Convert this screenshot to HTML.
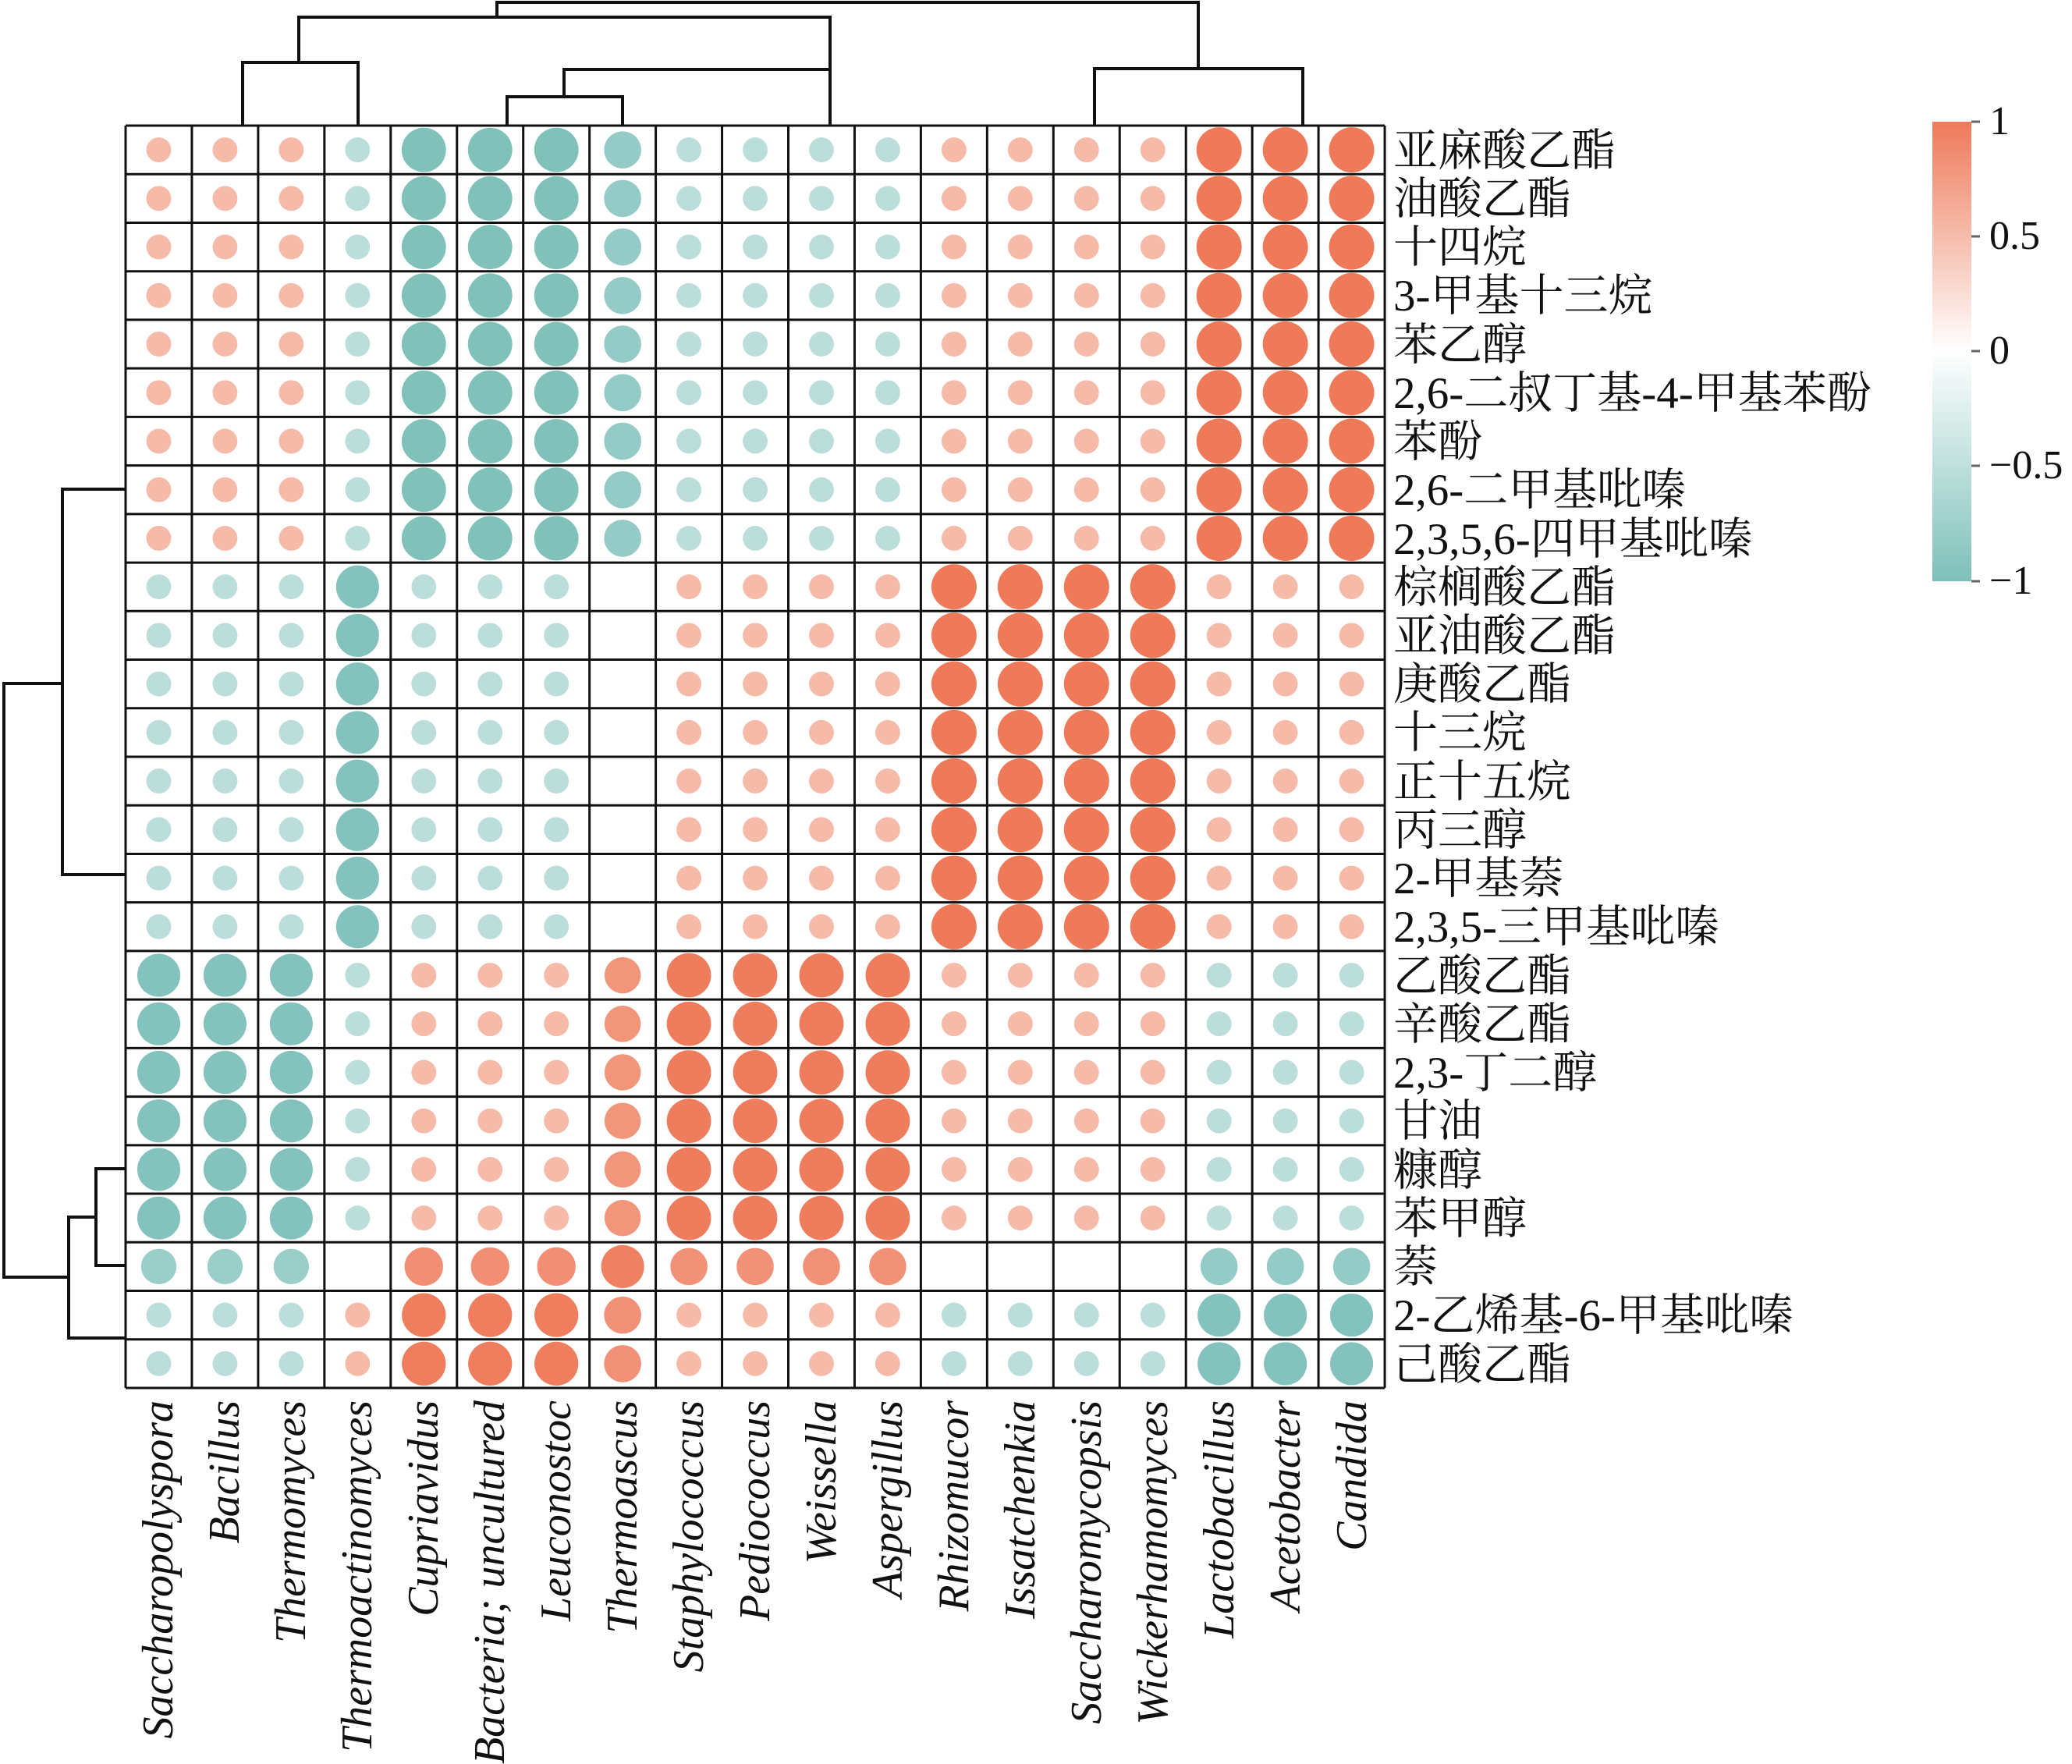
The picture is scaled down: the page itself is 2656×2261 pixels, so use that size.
<!DOCTYPE html>
<html><head><meta charset="utf-8"><style>
html,body{margin:0;padding:0;background:#fff;}
svg{display:block;}
.rl{font-family:"Liberation Serif","Noto Serif CJK SC",serif;font-size:57px;fill:#111;}
.cl{font-family:"Liberation Serif",serif;font-style:italic;font-size:56px;fill:#111;}
.tk{font-family:"Liberation Serif",serif;font-size:52px;fill:#111;}
</style></head><body>
<svg id="s" width="2656" height="2261" viewBox="0 0 2656 2261" xmlns="http://www.w3.org/2000/svg">
<defs><linearGradient id="g" x1="0" y1="0" x2="0" y2="1">
<stop offset="0" stop-color="#ee7a5a"/><stop offset="0.5" stop-color="#ffffff"/><stop offset="1" stop-color="#7dc0b9"/></linearGradient></defs>
<g id="cells"></g>
<g id="grid" stroke="#111" stroke-width="3" fill="none"></g>
<g stroke="#111" stroke-width="4" fill="none">
<path d="M637,22 V3 H1536 V88"/>
<path d="M383,80 V22 H1064 V89"/>
<path d="M311,160 V80 H459 V160"/>
<path d="M723,124 V89 H1064 V160"/>
<path d="M650,160 V124 H798 V160"/>
<path d="M1403,160 V88 H1670 V160"/>
<path d="M80,876 H5 V1637 H88"/>
<path d="M160,627 H80 V1121 H160"/>
<path d="M160,1715 H88 V1560 H123"/>
<path d="M160,1498 H123 V1622 H160"/>
</g>
<g class="rl">
<text x="1786" y="212">亚麻酸乙酯</text>
<text x="1786" y="274">油酸乙酯</text>
<text x="1786" y="336">十四烷</text>
<text x="1786" y="398">3-甲基十三烷</text>
<text x="1786" y="461">苯乙醇</text>
<text x="1786" y="523">2,6-二叔丁基-4-甲基苯酚</text>
<text x="1786" y="585">苯酚</text>
<text x="1786" y="647">2,6-二甲基吡嗪</text>
<text x="1786" y="710">2,3,5,6-四甲基吡嗪</text>
<text x="1786" y="772">棕榈酸乙酯</text>
<text x="1786" y="834">亚油酸乙酯</text>
<text x="1786" y="896">庚酸乙酯</text>
<text x="1786" y="958">十三烷</text>
<text x="1786" y="1021">正十五烷</text>
<text x="1786" y="1083">丙三醇</text>
<text x="1786" y="1145">2-甲基萘</text>
<text x="1786" y="1207">2,3,5-三甲基吡嗪</text>
<text x="1786" y="1270">乙酸乙酯</text>
<text x="1786" y="1332">辛酸乙酯</text>
<text x="1786" y="1394">2,3-丁二醇</text>
<text x="1786" y="1456">甘油</text>
<text x="1786" y="1519">糠醇</text>
<text x="1786" y="1581">苯甲醇</text>
<text x="1786" y="1643">萘</text>
<text x="1786" y="1705">2-乙烯基-6-甲基吡嗪</text>
<text x="1786" y="1768">己酸乙酯</text>
</g>
<g class="cl" text-anchor="end">
<text transform="translate(221,1795) rotate(-90)">Saccharopolyspora</text>
<text transform="translate(306,1795) rotate(-90)">Bacillus</text>
<text transform="translate(391,1795) rotate(-90)">Thermomyces</text>
<text transform="translate(476,1795) rotate(-90)">Thermoactinomyces</text>
<text transform="translate(561,1795) rotate(-90)">Cupriavidus</text>
<text transform="translate(646,1795) rotate(-90)">Bacteria; uncultured</text>
<text transform="translate(731,1795) rotate(-90)">Leuconostoc</text>
<text transform="translate(816,1795) rotate(-90)">Thermoascus</text>
<text transform="translate(901,1795) rotate(-90)">Staphylococcus</text>
<text transform="translate(986,1795) rotate(-90)">Pediococcus</text>
<text transform="translate(1071,1795) rotate(-90)">Weissella</text>
<text transform="translate(1156,1795) rotate(-90)">Aspergillus</text>
<text transform="translate(1241,1795) rotate(-90)">Rhizomucor</text>
<text transform="translate(1326,1795) rotate(-90)">Issatchenkia</text>
<text transform="translate(1411,1795) rotate(-90)">Saccharomycopsis</text>
<text transform="translate(1496,1795) rotate(-90)">Wickerhamomyces</text>
<text transform="translate(1581,1795) rotate(-90)">Lactobacillus</text>
<text transform="translate(1666,1795) rotate(-90)">Acetobacter</text>
<text transform="translate(1751,1795) rotate(-90)">Candida</text>
</g>
<rect x="2477" y="156" width="50" height="589" fill="url(#g)"/>
<g stroke="#666" stroke-width="3">
<line x1="2527" y1="156" x2="2538" y2="156"/><line x1="2527" y1="303" x2="2538" y2="303"/>
<line x1="2527" y1="450" x2="2538" y2="450"/><line x1="2527" y1="597" x2="2538" y2="597"/>
<line x1="2527" y1="745" x2="2538" y2="745"/></g>
<g class="tk">
<text x="2550" y="172">1</text>
<text x="2550" y="319">0.5</text>
<text x="2550" y="466">0</text>
<text x="2550" y="613">−0.5</text>
<text x="2550" y="761">−1</text>
</g>
</svg>
<script>
(function(){
var L=161,T=161,CW=84.95,RH=62.23,NC=19,NR=26;
function grp(a,b,c,d,e,f,g){return [a,a,a,b,c,c,c,d,e,e,e,e,f,f,f,f,g,g,g];}
var rows=[];
var A=grp(0.55,-0.55,-0.98,-0.82,-0.55,0.55,1);
var B=grp(-0.55,-0.95,-0.55,0,0.55,1,0.55);
var C=grp(-0.95,-0.55,0.55,0.8,0.98,0.55,-0.55);
var N=grp(-0.78,0,0.85,0.95,0.82,0,-0.82);
var E=grp(-0.55,0.55,0.97,0.82,0.55,-0.55,-0.95);
for(var i=0;i<9;i++)rows.push(A);
for(i=0;i<8;i++)rows.push(B);
for(i=0;i<6;i++)rows.push(C);
rows.push(N);rows.push(E);rows.push(E);
function mix(c,t){var r=Math.round(255+(c[0]-255)*t),g=Math.round(255+(c[1]-255)*t),b=Math.round(255+(c[2]-255)*t);return "rgb("+r+","+g+","+b+")";}
var ns="http://www.w3.org/2000/svg",cells=document.getElementById("cells"),grid=document.getElementById("grid");
for(var r=0;r<NR;r++)for(var c=0;c<NC;c++){var v=rows[r][c];if(!v)continue;
var e=document.createElementNS(ns,"circle");e.setAttribute("cx",L+CW*(c+0.5));e.setAttribute("cy",T+RH*(r+0.5));
var a=Math.abs(v);e.setAttribute("r",29*a);var t=a<0.6?0.52:a;
e.setAttribute("fill",v>0?mix([238,122,90],t):mix([125,192,185],t));cells.appendChild(e);}
for(c=0;c<=NC;c++){var l=document.createElementNS(ns,"line");var x=L+CW*c;l.setAttribute("x1",x);l.setAttribute("x2",x);l.setAttribute("y1",T);l.setAttribute("y2",T+RH*NR);grid.appendChild(l);}
for(r=0;r<=NR;r++){var l2=document.createElementNS(ns,"line");var y=T+RH*r;l2.setAttribute("y1",y);l2.setAttribute("y2",y);l2.setAttribute("x1",L);l2.setAttribute("x2",L+CW*NC);grid.appendChild(l2);}
})();
</script>
</body></html>
